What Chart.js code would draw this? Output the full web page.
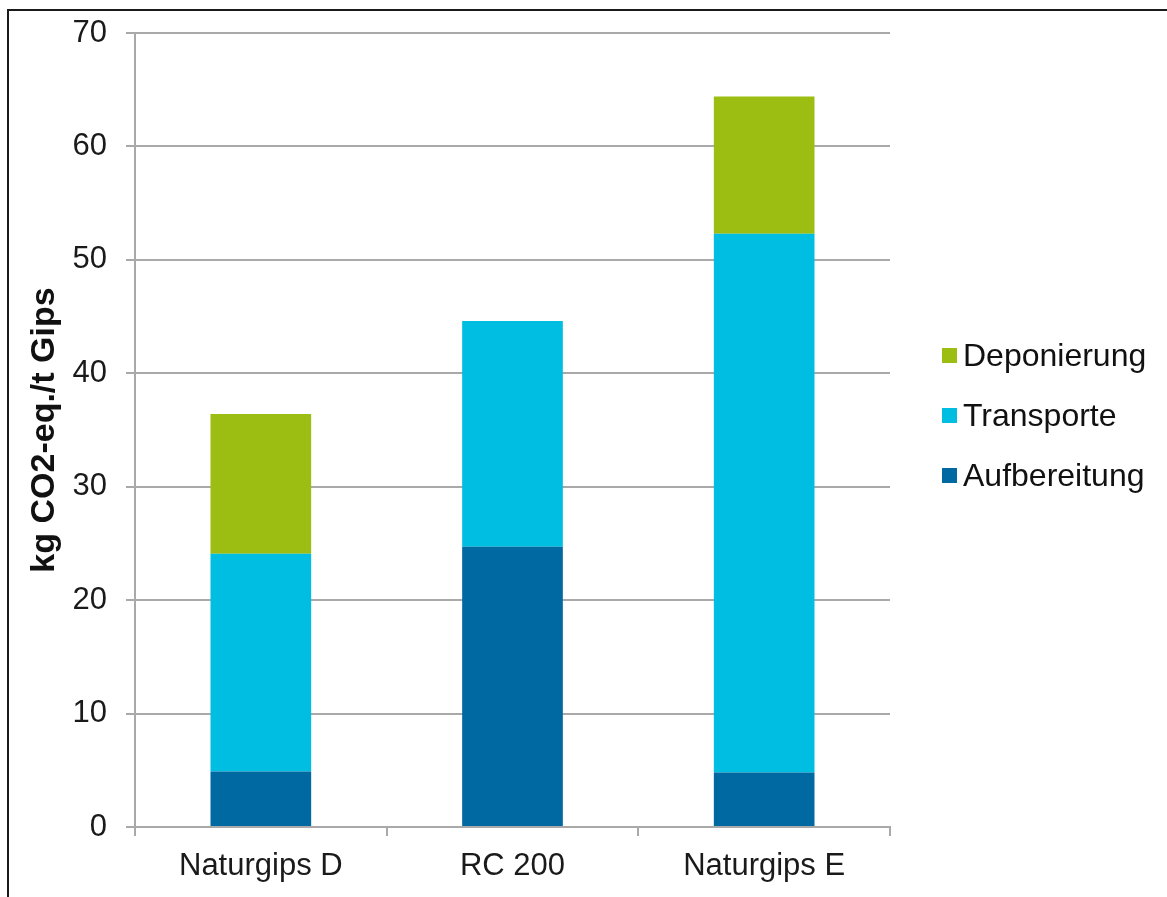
<!DOCTYPE html>
<html>
<head>
<meta charset="utf-8">
<script src="https://cdn.jsdelivr.net/npm/chart.js@4.4.1/dist/chart.umd.min.js"></script>
<style>
  html, body { margin: 0; padding: 0; background: #fff; overflow: hidden; }
  #wrap { position: relative; width: 1167px; height: 897px; overflow: hidden; }
  #frame {
    position: absolute; left: 7px; top: 9px; width: 2000px; height: 2000px;
    border-left: 2px solid #1a1a1a; border-top: 2px solid #1a1a1a;
    box-sizing: border-box; pointer-events: none;
  }
  #chart { position: absolute; left: 0; top: 0; }
  #legend {
    position: absolute; left: 942px; top: 325px;
    font-family: "Liberation Sans", Arial, sans-serif; font-size: 32px; color: #111;
  }
  #legend .item { display: flex; align-items: center; height: 60px; }
  #legend .box { width: 15px; height: 15px; margin-right: 6px; flex: none; }
  #legend .txt { line-height: 1; white-space: nowrap; }
</style>
</head>
<body>
<div id="wrap">
  <canvas id="chart" width="1167" height="897"></canvas>
  <div id="legend"></div>
  <div id="frame"></div>
</div>
<script>
// Categories and stacked components (kg CO2-eq. per tonne of gypsum)
const categories   = ['Naturgips D', 'RC 200', 'Naturgips E'];
const aufbereitung = [4.9, 24.7, 4.8];
const transporte   = [19.2, 19.9, 47.5];
const deponierung  = [12.3, 0, 12.1];
const yTicks       = [0, 10, 20, 30, 40, 50, 60, 70];

const seriesNames  = ['Aufbereitung', 'Transporte', 'Deponierung'];
const seriesColors = ['#0069A1', '#00BDE2', '#9CBE12'];

const FONT = '"Liberation Sans", Arial, sans-serif';
const GRID = '#a9a9a9';

const datasets = [aufbereitung, transporte, deponierung].map((values, i) => ({
  label: seriesNames[i],
  data: values,
  backgroundColor: seriesColors[i],
  borderWidth: 0,
  barPercentage: 0.4,
  categoryPercentage: 1.0
}));

const chart = new Chart(document.getElementById('chart'), {
  type: 'bar',
  data: { labels: categories, datasets },
  options: {
    responsive: false,
    animation: false,
    events: [],
    layout: { padding: { top: 33, right: 277, bottom: 0, left: 0 } },
    plugins: { legend: { display: false }, tooltip: { enabled: false } },
    scales: {
      x: {
        stacked: true,
        offset: true,
        grid: {
          offset: true, drawOnChartArea: false, drawTicks: true,
          tickLength: 9, color: GRID, lineWidth: 2
        },
        border: { display: true, color: GRID, width: 2 },
        ticks: { color: '#1a1a1a', font: { family: FONT, size: 31 }, padding: 12, maxRotation: 0 },
        afterFit: (s) => { s.height = 70; s.paddingLeft = 0; s.paddingRight = 0; }
      },
      y: {
        stacked: true,
        min: 0, max: 70,
        afterBuildTicks: (s) => { s.ticks = yTicks.map(v => ({ value: v })); },
        grid: { color: GRID, lineWidth: 2, drawTicks: true, tickLength: 9 },
        border: { display: true, color: GRID, width: 2 },
        ticks: { color: '#1a1a1a', font: { family: FONT, size: 31 }, padding: 19 },
        title: {
          display: true,
          text: 'kg CO2-eq./t Gips',
          color: '#111',
          font: { family: FONT, size: 34, weight: 'bold' },
          padding: { top: 24, bottom: 0 }
        },
        afterFit: (s) => { s.width = 135; s.paddingTop = 0; s.paddingBottom = 0; }
      }
    }
  }
});

// Legend listed top-down in reverse stacking order
const legendEl = document.getElementById('legend');
chart.data.datasets.slice().reverse().forEach(ds => {
  const item = document.createElement('div');
  item.className = 'item';
  const box = document.createElement('span');
  box.className = 'box';
  box.style.background = ds.backgroundColor;
  const txt = document.createElement('span');
  txt.className = 'txt';
  txt.textContent = ds.label;
  item.appendChild(box);
  item.appendChild(txt);
  legendEl.appendChild(item);
});
</script>
</body>
</html>
